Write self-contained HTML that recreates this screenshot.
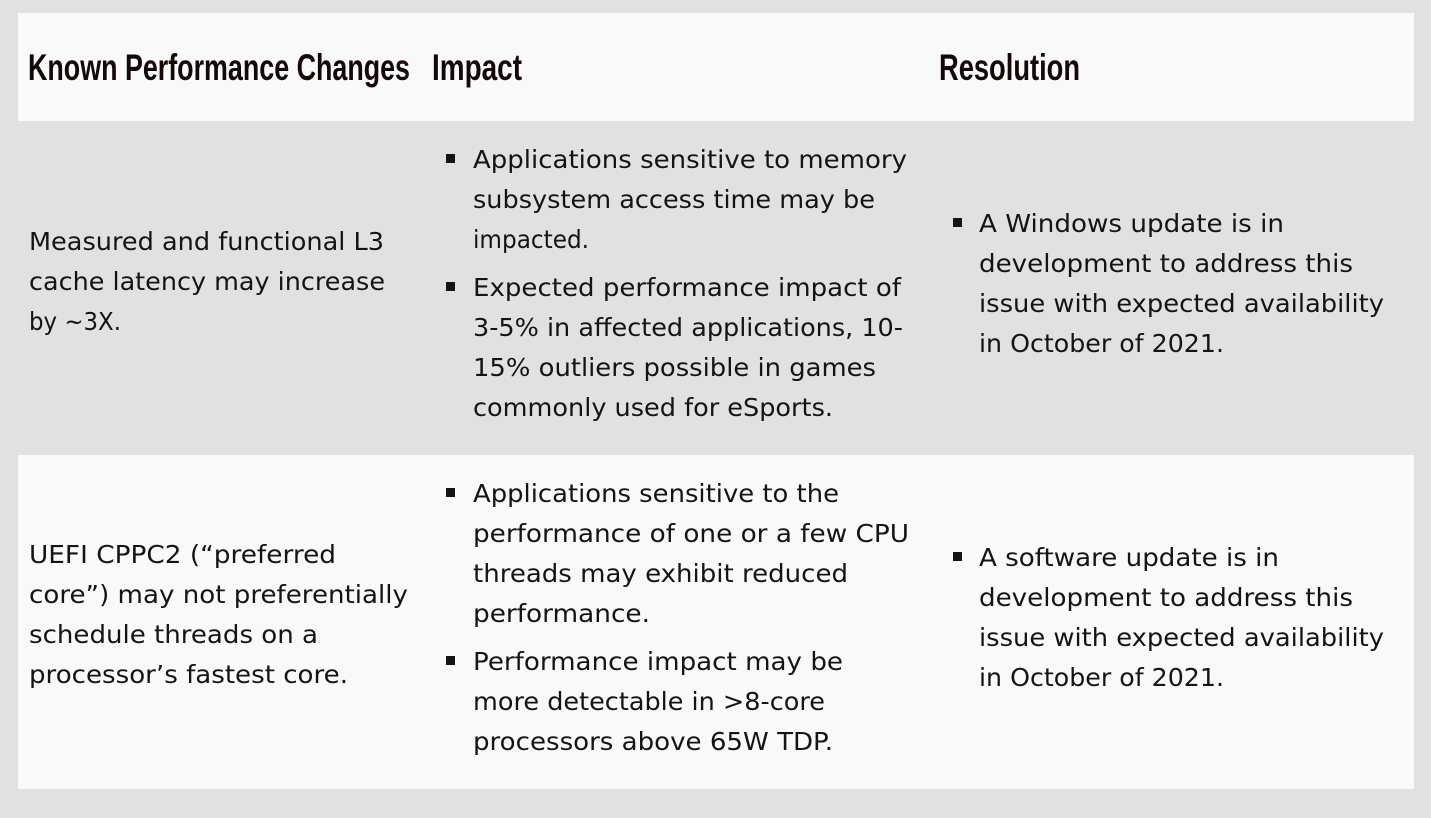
<!DOCTYPE html>
<html><head><meta charset="utf-8"><style>
html,body{margin:0;padding:0;background:#e1e1e3;}
svg{display:block}
.h{font-family:"Liberation Sans",sans-serif;font-weight:bold;font-size:37px;fill:#140808}
.b{font-family:"DejaVu Sans","Liberation Sans",sans-serif;font-size:25px;fill:#141414}
</style></head><body>
<svg width="1431" height="818" viewBox="0 0 1431 818" xmlns="http://www.w3.org/2000/svg">
<rect x="0" y="0" width="1431" height="818" fill="#e1e1e3"/>
<rect x="18" y="13" width="1396" height="108" fill="#f9f9f9"/>
<rect x="18" y="455" width="1396" height="334" fill="#f9f9f9"/>
<g class="h">
<text x="28" y="80" textLength="382" lengthAdjust="spacingAndGlyphs">Known Performance Changes</text>
<text x="432" y="80" textLength="90" lengthAdjust="spacingAndGlyphs">Impact</text>
<text x="939" y="80" textLength="141" lengthAdjust="spacingAndGlyphs">Resolution</text>
</g>
<g fill="#141414">
<rect x="446" y="154" width="9" height="9"/><rect x="446" y="282" width="9" height="9"/>
<rect x="953" y="218" width="9" height="9"/>
<rect x="446" y="488" width="9" height="9"/><rect x="446" y="656" width="9" height="9"/>
<rect x="953" y="552" width="9" height="9"/>
</g>
<g class="b">
<text x="29" y="250" textLength="355" lengthAdjust="spacingAndGlyphs">Measured and functional L3</text>
<text x="29" y="290" textLength="356" lengthAdjust="spacingAndGlyphs">cache latency may increase</text>
<text x="29" y="330" textLength="92" lengthAdjust="spacingAndGlyphs">by ~3X.</text>

<text x="473" y="168" textLength="434" lengthAdjust="spacingAndGlyphs">Applications sensitive to memory</text>
<text x="473" y="208" textLength="402" lengthAdjust="spacingAndGlyphs">subsystem access time may be</text>
<text x="473" y="248" textLength="116" lengthAdjust="spacingAndGlyphs">impacted.</text>
<text x="473" y="296" textLength="428" lengthAdjust="spacingAndGlyphs">Expected performance impact of</text>
<text x="473" y="336" textLength="430" lengthAdjust="spacingAndGlyphs">3-5% in affected applications, 10-</text>
<text x="473" y="376" textLength="403" lengthAdjust="spacingAndGlyphs">15% outliers possible in games</text>
<text x="473" y="416" textLength="360" lengthAdjust="spacingAndGlyphs">commonly used for eSports.</text>

<text x="979" y="232" textLength="305" lengthAdjust="spacingAndGlyphs">A Windows update is in</text>
<text x="979" y="272" textLength="374" lengthAdjust="spacingAndGlyphs">development to address this</text>
<text x="979" y="312" textLength="405" lengthAdjust="spacingAndGlyphs">issue with expected availability</text>
<text x="979" y="352" textLength="245" lengthAdjust="spacingAndGlyphs">in October of 2021.</text>

<text x="29" y="563" textLength="307" lengthAdjust="spacingAndGlyphs">UEFI CPPC2 (“preferred</text>
<text x="29" y="603" textLength="379" lengthAdjust="spacingAndGlyphs">core”) may not preferentially</text>
<text x="29" y="643" textLength="289" lengthAdjust="spacingAndGlyphs">schedule threads on a</text>
<text x="29" y="683" textLength="319" lengthAdjust="spacingAndGlyphs">processor’s fastest core.</text>

<text x="473" y="502" textLength="366" lengthAdjust="spacingAndGlyphs">Applications sensitive to the</text>
<text x="473" y="542" textLength="436" lengthAdjust="spacingAndGlyphs">performance of one or a few CPU</text>
<text x="473" y="582" textLength="375" lengthAdjust="spacingAndGlyphs">threads may exhibit reduced</text>
<text x="473" y="622" textLength="177" lengthAdjust="spacingAndGlyphs">performance.</text>
<text x="473" y="670" textLength="370" lengthAdjust="spacingAndGlyphs">Performance impact may be</text>
<text x="473" y="710" textLength="352" lengthAdjust="spacingAndGlyphs">more detectable in &gt;8-core</text>
<text x="473" y="750" textLength="360" lengthAdjust="spacingAndGlyphs">processors above 65W TDP.</text>

<text x="979" y="566" textLength="300" lengthAdjust="spacingAndGlyphs">A software update is in</text>
<text x="979" y="606" textLength="374" lengthAdjust="spacingAndGlyphs">development to address this</text>
<text x="979" y="646" textLength="405" lengthAdjust="spacingAndGlyphs">issue with expected availability</text>
<text x="979" y="686" textLength="245" lengthAdjust="spacingAndGlyphs">in October of 2021.</text>
</g>
</svg>
</body></html>
